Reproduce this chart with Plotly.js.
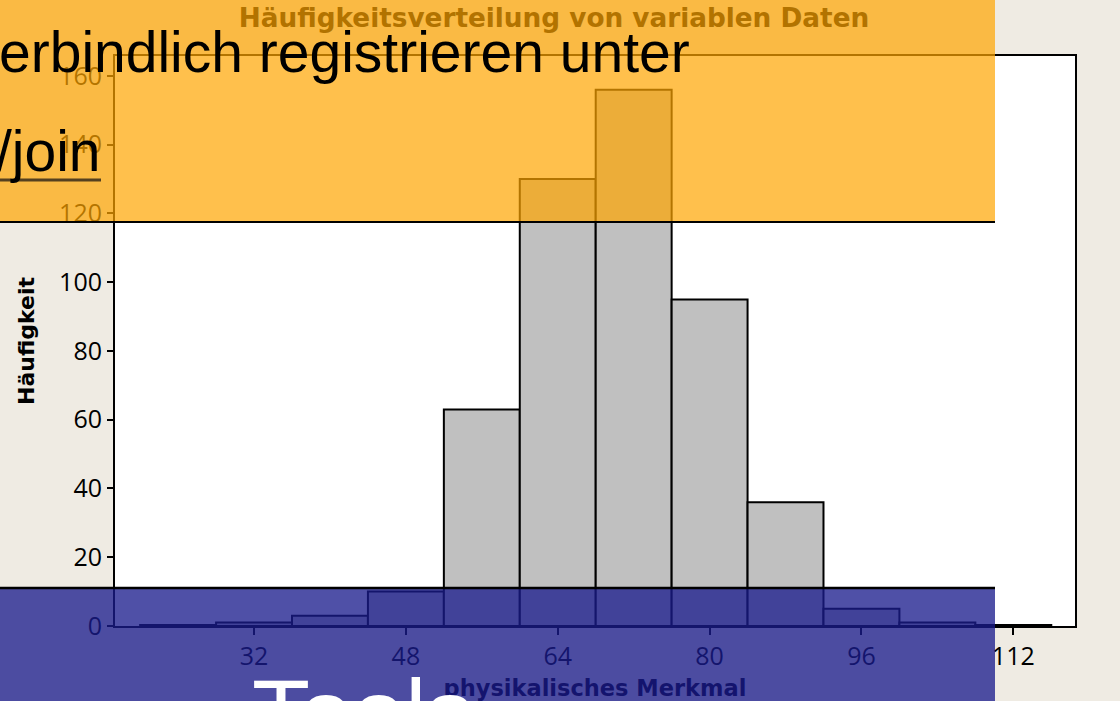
<!DOCTYPE html>
<html>
<head>
<meta charset="utf-8">
<script src="https://cdn.plot.ly/plotly-3.0.1.min.js"></script>
<style>html,body{margin:0;padding:0;background:#efebe3;}#chart{width:1120px;height:701px;}</style>
</head>
<body>
<div id="chart"></div>
<script>
// Histogram data (bin centers, bin width 8)
const binCenters = [24, 32, 40, 48, 56, 64, 72, 80, 88, 96, 104, 112];
const counts = [0.3, 1, 3, 10, 63, 130, 156, 95, 36, 5, 1, 0.3];
const xTickVals = [32, 48, 64, 80, 96, 112];
const chartTitle = "Häufigkeitsverteilung von variablen Daten";
const xTitle = "physikalisches Merkmal";
const yTitle = "Häufigkeit";
const bannerLine1 = "erbindlich registrieren unter";
const bannerLine2 = "/join";
const footerText = "Tools";

// plot-area geometry in pixels
const L = 115, R = 1075, T = 56, B = 626;
const px = p => (p - L) / (R - L);
const py = p => (B - p) / (B - T);

const trace = {
  type: 'bar',
  x: binCenters,
  y: counts,
  width: 8,
  marker: { color: '#c0c0c0', line: { color: '#000', width: 2 } },
  hoverinfo: 'x+y'
};

const tickFont = { family: 'Open Sans, sans-serif', size: 25, color: '#000' };

const layout = {
  width: 1120, height: 701,
  paper_bgcolor: '#efebe3',
  plot_bgcolor: '#ffffff',
  margin: { l: L, r: 1120 - R, t: T, b: 701 - B, pad: 0 },
  showlegend: false,
  bargap: 0,
  title: {
    text: chartTitle,
    x: 554 / 1120, xref: 'container', xanchor: 'center',
    y: 1 - 18 / 701, yref: 'container', yanchor: 'middle',
    font: { family: 'DejaVu Sans, sans-serif', size: 26.3, weight: 'bold', color: '#b27300' }
  },
  xaxis: {
    range: [17.35, 118.5],
    tickvals: xTickVals,
    ticks: 'outside', ticklen: 7, tickwidth: 2, tickcolor: '#000',
    showline: true, linecolor: '#000', linewidth: 2, mirror: true,
    showgrid: false, zeroline: false,
    tickfont: tickFont,
    title: { text: '<b>' + xTitle + '</b>', standoff: 9,
      font: { family: 'DejaVu Sans, sans-serif', size: 22.5, color: '#14146e' } }
  },
  yaxis: {
    range: [0, 165.8],
    dtick: 20,
    ticks: 'outside', ticklen: 6, tickwidth: 2, tickcolor: '#000',
    showline: true, linecolor: '#000', linewidth: 2, mirror: true,
    showgrid: false, zeroline: false,
    tickfont: tickFont,
    title: { text: '<b>' + yTitle + '</b>', standoff: 18,
      font: { family: 'DejaVu Sans, sans-serif', size: 22, color: '#000' } }
  },
  shapes: [
    { type: 'rect', xref: 'paper', yref: 'paper', layer: 'above',
      x0: px(-5), x1: px(995), y0: py(222), y1: py(-5),
      fillcolor: 'rgba(255,165,0,0.70)', line: { width: 0 } },
    { type: 'line', xref: 'paper', yref: 'paper', layer: 'above',
      x0: px(-5), x1: px(995), y0: py(222), y1: py(222),
      line: { color: '#000', width: 2 } },
    { type: 'rect', xref: 'paper', yref: 'paper', layer: 'above',
      x0: px(-5), x1: px(995), y0: py(706), y1: py(588),
      fillcolor: 'rgba(26,27,141,0.77)', line: { width: 0 } },
    { type: 'line', xref: 'paper', yref: 'paper', layer: 'above',
      x0: px(-5), x1: px(995), y0: py(588), y1: py(588),
      line: { color: '#000', width: 2.5 } },
    { type: 'line', xref: 'paper', yref: 'paper', layer: 'above',
      x0: px(-5), x1: px(101), y0: py(180), y1: py(180),
      line: { color: '#55401f', width: 3 } }
  ],
  annotations: [
    { text: bannerLine1, xref: 'paper', yref: 'paper', x: px(-3), y: py(52),
      xanchor: 'left', yanchor: 'middle', showarrow: false,
      font: { family: 'Liberation Sans, Arial, sans-serif', size: 57, color: '#000' } },
    { text: bannerLine2, xref: 'paper', yref: 'paper', x: px(103), y: py(151),
      xanchor: 'right', yanchor: 'middle', showarrow: false,
      font: { family: 'Liberation Sans, Arial, sans-serif', size: 57, color: '#000' } },
    { text: footerText, xref: 'paper', yref: 'paper', x: px(250), y: py(658),
      xanchor: 'left', yanchor: 'top', showarrow: false,
      font: { family: 'Liberation Sans, Arial, sans-serif', size: 95, color: '#fff' } }
  ]
};

Plotly.newPlot('chart', [trace], layout, { displayModeBar: false, staticPlot: true });
</script>
</body>
</html>
